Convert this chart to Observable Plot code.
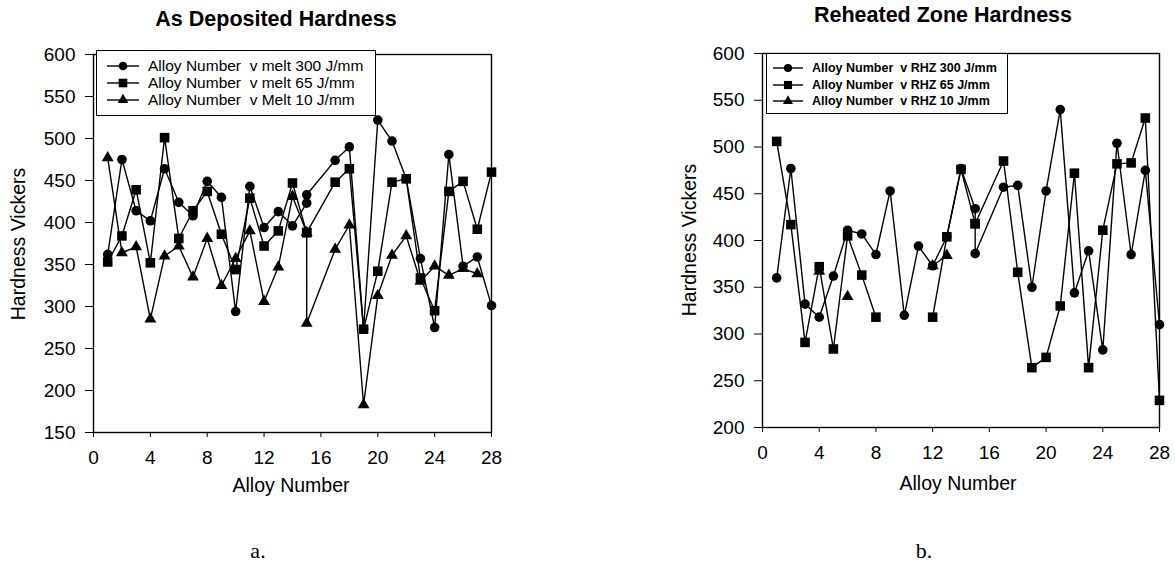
<!DOCTYPE html>
<html>
<head>
<meta charset="utf-8">
<script src="https://cdn.jsdelivr.net/npm/d3@7"></script>
<script src="https://cdn.jsdelivr.net/npm/@observablehq/plot@0.6"></script>
<style>
  html, body { margin: 0; padding: 0; background: #fff; }
  #page { position: relative; width: 1175px; height: 564px; background: #fff; overflow: hidden; font-family: "Liberation Sans", Arial, sans-serif; color: #000; }
  .abs { position: absolute; white-space: nowrap; line-height: 1; }
  .title { font-weight: bold; font-size: 21.5px; transform: translate(-50%, -50%); }
  .axlab { font-size: 19.5px; transform: translate(-50%, -50%); }
  .ylab { font-size: 19.5px; transform: translate(-50%, -50%) rotate(-90deg); }
  .sub { font-family: "Liberation Serif", "Times New Roman", serif; font-size: 22px; transform: translate(-50%, -50%); }
  .legend { position: absolute; border: 1.2px solid #000; background: #fff; box-sizing: border-box; }
  .legrow { position: absolute; left: 0; display: flex; align-items: center; }
  .legrow svg { display: block; }
</style>
</head>
<body>
<div id="page"></div>
<script>
// ---------- data ----------
// Alloy number positions (alloy 16 was plotted at 15 in the original)
const alloyX = [1,2,3,4,5,6,7,8,9,10,11,12,13,14,15,15,17,18,19,20,21,22,23,24,25,26,27,28];

// a. As Deposited Hardness (Hardness Vickers)
const melt300 = [362,475,414,402,464,424,408,449,430,294,443,394,413,396,423,433,474,490,273,522,497,452,357,275,481,348,359,301];
const melt65  = [353,384,439,352,501,381,414,437,386,344,429,372,390,447,388,388,448,464,273,342,448,452,334,295,437,449,392,460];
const melt10  = [477,364,371,285,360,372,335,381,325,357,390,306,347,431,388,280,368,397,183,313,361,384,330,348,337,345,339,null];

// b. Reheated Zone Hardness (Hardness Vickers)
const rhz300 = [360,477,332,318,362,411,407,385,453,320,394,373,404,477,434,386,457,459,350,453,540,344,389,283,504,385,475,310];
const rhz65  = [506,417,291,372,284,405,363,318,null,null,null,318,404,476,418,418,485,366,264,275,330,472,264,411,482,483,531,229];
const rhz10  = [null,null,null,367,null,340,null,null,null,null,null,373,384,null,null,null,null,null,null,null,null,null,null,null,null,null,null,null];

const xTicks = [0,4,8,12,16,20,24,28];
const yTicksDep = [150,200,250,300,350,400,450,500,550,600];
const yTicksRhz = [200,250,300,350,400,450,500,550,600];

const depLabels = ["Alloy Number  v melt 300 J/mm", "Alloy Number  v melt 65 J/mm", "Alloy Number  v Melt 10 J/mm"];
const rhzLabels = ["Alloy Number  v RHZ 300 J/mm", "Alloy Number  v RHZ 65 J/mm", "Alloy Number  v RHZ 10 J/mm"];
const symbols = ["circle", "square", "triangle"];

// ---------- helpers ----------
const page = document.getElementById("page");
const symR = {circle: 4.8, square: 5.4, triangle: 4.4};

function rows(values) {
  return alloyX.map((x, i) => ({x, y: values[i]}));
}

function chart(opts) {
  const {width, height, mL, mR, mT, mB, yDomain, yTicks, series} = opts;
  const lineMarks = series.map(s => Plot.line(rows(s.values), {x: "x", y: "y", stroke: "#000", strokeWidth: 1.4}));
  const order = ["triangle", "circle", "square"];
  const dotMarks = order.map(sym => {
    const s = series.find(d => d.symbol === sym);
    return Plot.dot(rows(s.values).filter(d => d.y != null), {x: "x", y: "y", symbol: () => sym, r: symR[sym], fill: "#000", stroke: "none"});
  });
  return Plot.plot({
    width, height,
    marginLeft: mL, marginRight: mR, marginTop: mT, marginBottom: mB,
    style: {fontFamily: '"Liberation Sans", Arial, sans-serif', fontSize: "19px", color: "#000", background: "transparent", overflow: "visible"},
    symbol: {type: "identity"},
    x: {domain: [0, 28], ticks: xTicks, tickSize: 5, tickPadding: 13, label: null},
    y: {domain: yDomain, ticks: yTicks, tickSize: 8, tickPadding: 10, label: null},
    marks: [
      Plot.frame({stroke: "#000", strokeWidth: 1.4}),
      ...lineMarks,
      ...dotMarks
    ]
  });
}

function place(el, left, top) {
  el.style.position = "absolute";
  el.style.left = left + "px";
  el.style.top = top + "px";
  page.appendChild(el);
}

function text(cls, str, cx, cy) {
  const d = document.createElement("div");
  d.className = "abs " + cls;
  d.textContent = str;
  d.style.left = cx + "px";
  d.style.top = cy + "px";
  page.appendChild(d);
}

function legend(labels, cfg) {
  const box = document.createElement("div");
  box.className = "legend";
  box.style.left = cfg.left + "px";
  box.style.top = cfg.top + "px";
  box.style.width = cfg.width + "px";
  box.style.height = cfg.height + "px";
  labels.forEach((lab, i) => {
    const row = document.createElement("div");
    row.className = "legrow";
    row.style.left = cfg.padL + "px";
    row.style.top = (cfg.row0 + i * cfg.rowStep - 8) + "px";
    row.style.height = "16px";
    const svg = d3.create("svg").attr("width", cfg.lineW).attr("height", 16);
    svg.append("line").attr("x1", 0).attr("x2", cfg.lineW).attr("y1", 8).attr("y2", 8).attr("stroke", "#000").attr("stroke-width", 1.4);
    const type = {circle: d3.symbolCircle, square: d3.symbolSquare, triangle: d3.symbolTriangle}[symbols[i]];
    const rr = symR[symbols[i]] * cfg.symScale;
    svg.append("path").attr("d", d3.symbol(type, Math.PI * rr * rr)()).attr("transform", `translate(${cfg.lineW / 2},8)`).attr("fill", "#000");
    row.appendChild(svg.node());
    const t = document.createElement("span");
    t.textContent = lab;
    t.style.whiteSpace = "pre";
    t.style.marginLeft = cfg.gap + "px";
    t.style.fontSize = cfg.fontSize;
    t.style.fontWeight = cfg.fontWeight;
    t.style.lineHeight = "16px";
    row.appendChild(t);
    box.appendChild(row);
  });
  page.appendChild(box);
}

// ---------- chart a ----------
const chartA = chart({
  width: 520, height: 500, mL: 93, mR: 29, mT: 54, mB: 68,
  yDomain: [150, 600], yTicks: yTicksDep,
  series: [
    {values: melt300, symbol: "circle"},
    {values: melt65, symbol: "square"},
    {values: melt10, symbol: "triangle"}
  ]
});
place(chartA, 0, 0);

// ---------- chart b ----------
const chartB = chart({
  width: 515, height: 500, mL: 102, mR: 16, mT: 53, mB: 73,
  yDomain: [200, 600], yTicks: yTicksRhz,
  series: [
    {values: rhz300, symbol: "circle"},
    {values: rhz65, symbol: "square"},
    {values: rhz10, symbol: "triangle"}
  ]
});
place(chartB, 660, 0);

// ---------- texts ----------
text("title", "As Deposited Hardness", 276, 20);
text("title", "Reheated Zone Hardness", 943, 16);
text("axlab", "Alloy Number", 291, 486);
text("axlab", "Alloy Number", 958, 484);
text("ylab", "Hardness Vickers", 19, 244);
text("ylab", "Hardness Vickers", 690, 240);
text("sub", "a.", 258, 551);
text("sub", "b.", 924, 551);

// ---------- legends ----------
legend(depLabels, {left: 96, top: 50, width: 280, height: 66, padL: 10, row0: 15, rowStep: 17, lineW: 32, gap: 9, fontSize: "15.5px", fontWeight: "normal", symScale: 0.9});
legend(rhzLabels, {left: 766, top: 53, width: 242, height: 61, padL: 6, row0: 14, rowStep: 16.5, lineW: 30, gap: 9, fontSize: "12.5px", fontWeight: "bold", symScale: 0.85});
</script>
</body>
</html>
